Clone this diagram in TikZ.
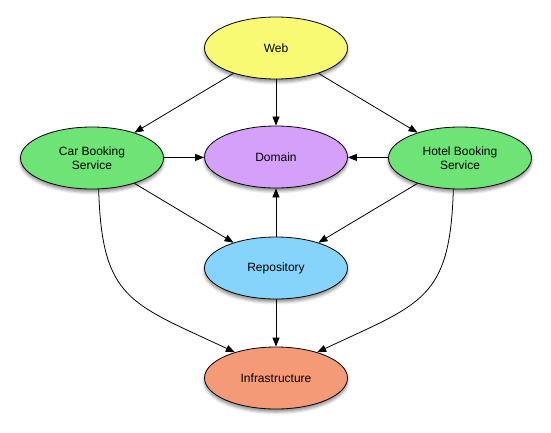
\documentclass[tikz,border=0pt]{standalone}
\usepackage{fontspec}
\setmainfont{Liberation Sans}
\usetikzlibrary{shapes.geometric,arrows.meta,shadows.blur}
\definecolor{cweb}{RGB}{248,250,115}
\definecolor{cdom}{RGB}{212,160,250}
\definecolor{cgreen}{RGB}{110,228,118}
\definecolor{crepo}{RGB}{134,212,252}
\definecolor{cinfra}{RGB}{245,154,118}
\tikzset{
  comp/.style={ellipse, draw=black, line width=0.8pt, minimum width=143pt, minimum height=62pt,
    inner sep=0pt, align=center, font=\fontsize{12}{14}\selectfont,
    blur shadow={shadow xshift=0pt, shadow yshift=-3pt, shadow blur radius=3pt, shadow opacity=45}},
  arr/.style={line width=0.8pt, -{Triangle[length=9pt,width=7pt]}},
}
\begin{document}
\begin{tikzpicture}[x=1pt,y=-1pt]
\useasboundingbox (0,0) rectangle (551,433);
\node[comp, fill=cweb] (web) at (276,48) {Web};
\node[comp, fill=cdom] (dom) at (276,157) {Domain};
\node[comp, fill=cgreen] (car) at (92,158) {Car Booking\\Service};
\node[comp, fill=cgreen] (hotel) at (460,158) {Hotel Booking\\Service};
\node[comp, fill=crepo] (repo) at (276,268) {Repository};
\node[comp, fill=cinfra] (infra) at (276,378) {Infrastructure};
\draw[arr] (web) -- (car);
\draw[arr] (web) -- (dom);
\draw[arr] (web) -- (hotel);
\draw[arr] (car) -- (dom);
\draw[arr] (hotel) -- (dom);
\draw[arr] (car) -- (repo);
\draw[arr] (hotel) -- (repo);
\draw[arr] (repo) -- (dom);
\draw[arr] (repo) -- (infra);
\draw[arr] (car.-78) .. controls (102,300) and (130,303) .. (infra.148);
\draw[arr] (hotel.-102) .. controls (450,300) and (422,303) .. (infra.32);
\end{tikzpicture}
\end{document}
